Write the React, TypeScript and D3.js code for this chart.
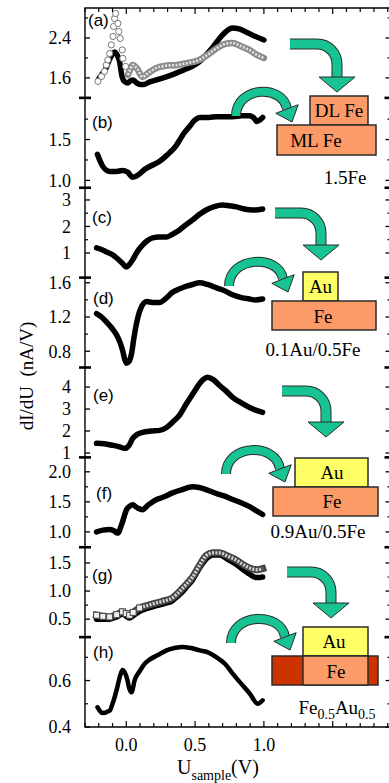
import React, { useRef, useEffect } from 'react';
import * as d3 from 'd3';

// sample bias U (V) and dI/dU (nA/V)
const aFillU = [-0.2, -0.18, -0.15, -0.12, -0.1, -0.085, -0.065, -0.05, -0.03, -0.01, 0.01, 0.03, 0.05, 0.075, 0.1, 0.13, 0.17, 0.22, 0.29, 0.35, 0.41, 0.47, 0.53, 0.58, 0.63, 0.68, 0.73, 0.77, 0.82, 0.87, 0.93, 1.0];
const aFillY = [1.58, 1.66, 1.78, 1.98, 2.08, 2.12, 2.05, 1.94, 1.62, 1.52, 1.5, 1.54, 1.56, 1.5, 1.47, 1.47, 1.52, 1.56, 1.62, 1.68, 1.75, 1.82, 1.92, 2.06, 2.22, 2.4, 2.54, 2.6, 2.58, 2.52, 2.44, 2.36];
const aOpenU = [-0.206, -0.18, -0.158, -0.145, -0.134, -0.121, -0.109, -0.097, -0.092, -0.085, -0.078, -0.061, -0.054, -0.044, -0.029, -0.025, -0.005, 0.012, 0.03, 0.046, 0.08, 0.118, 0.16, 0.22, 0.28, 0.37, 0.45, 0.53, 0.6, 0.66, 0.72, 0.77, 0.83, 0.9, 0.95, 1.0];
const aOpenY = [1.53, 1.63, 1.73, 1.86, 1.96, 2.09, 2.26, 2.43, 2.63, 2.79, 2.89, 2.69, 2.53, 2.39, 2.16, 1.99, 1.83, 1.66, 1.78, 1.86, 1.78, 1.62, 1.7, 1.8, 1.84, 1.86, 1.9, 1.96, 2.08, 2.2, 2.28, 2.3, 2.24, 2.15, 2.06, 2.0];

const bU = [-0.21, -0.17, -0.12, -0.07, -0.03, 0.01, 0.046, 0.07, 0.097, 0.13, 0.17, 0.24, 0.29, 0.315, 0.36, 0.39, 0.42, 0.46, 0.5, 0.533, 0.6, 0.656, 0.72, 0.773, 0.84, 0.896, 0.93, 0.947, 0.97, 0.991];
const bY = [1.32, 1.17, 1.11, 1.11, 1.12, 1.1, 1.04, 1.05, 1.08, 1.13, 1.17, 1.23, 1.3, 1.34, 1.42, 1.5, 1.58, 1.66, 1.74, 1.77, 1.77, 1.78, 1.78, 1.78, 1.79, 1.79, 1.76, 1.72, 1.74, 1.77];

const cU = [-0.216, -0.18, -0.143, -0.1, -0.07, -0.03, 0.002, 0.02, 0.046, 0.08, 0.118, 0.15, 0.191, 0.24, 0.293, 0.34, 0.387, 0.43, 0.482, 0.53, 0.584, 0.64, 0.7, 0.75, 0.802, 0.85, 0.896, 0.94, 0.991];
const cY = [1.19, 1.13, 1.04, 0.93, 0.81, 0.62, 0.47, 0.55, 0.74, 1.05, 1.3, 1.45, 1.57, 1.6, 1.6, 1.72, 1.87, 2.05, 2.25, 2.45, 2.63, 2.75, 2.81, 2.78, 2.74, 2.67, 2.63, 2.62, 2.66];

const dU = [-0.216, -0.18, -0.143, -0.1, -0.07, -0.045, -0.027, -0.01, 0.002, 0.02, 0.039, 0.055, 0.075, 0.1, 0.148, 0.19, 0.242, 0.29, 0.336, 0.39, 0.438, 0.48, 0.533, 0.59, 0.656, 0.71, 0.773, 0.83, 0.896, 0.94, 0.991];
const dY = [1.24, 1.2, 1.14, 1.06, 0.99, 0.9, 0.81, 0.7, 0.66, 0.68, 0.78, 0.95, 1.13, 1.28, 1.38, 1.37, 1.37, 1.42, 1.49, 1.53, 1.56, 1.58, 1.6, 1.58, 1.54, 1.51, 1.46, 1.43, 1.41, 1.4, 1.41];

const eU = [-0.216, -0.16, -0.1, -0.05, -0.012, 0.02, 0.046, 0.08, 0.118, 0.18, 0.242, 0.29, 0.336, 0.39, 0.438, 0.49, 0.533, 0.56, 0.591, 0.63, 0.678, 0.72, 0.773, 0.83, 0.896, 0.94, 0.991];
const eY = [1.44, 1.42, 1.35, 1.28, 1.21, 1.35, 1.66, 1.85, 1.94, 2.0, 2.03, 2.15, 2.4, 2.75, 3.25, 3.75, 4.16, 4.35, 4.45, 4.35, 4.07, 3.85, 3.53, 3.3, 3.07, 2.95, 2.85];

const fU = [-0.216, -0.17, -0.121, -0.09, -0.063, -0.03, 0.002, 0.02, 0.046, 0.08, 0.118, 0.16, 0.22, 0.27, 0.336, 0.4, 0.482, 0.53, 0.584, 0.63, 0.678, 0.72, 0.773, 0.83, 0.896, 0.94, 0.991];
const fY = [1.0, 1.03, 1.04, 1.02, 0.98, 1.15, 1.37, 1.42, 1.45, 1.4, 1.37, 1.45, 1.54, 1.58, 1.65, 1.7, 1.75, 1.74, 1.7, 1.66, 1.62, 1.59, 1.54, 1.49, 1.42, 1.36, 1.29];

const gOpenU = [-0.216, -0.17, -0.121, -0.07, -0.027, 0.0, 0.024, 0.05, 0.097, 0.15, 0.22, 0.28, 0.336, 0.37, 0.409, 0.44, 0.482, 0.53, 0.584, 0.63, 0.678, 0.74, 0.802, 0.85, 0.896, 0.95, 0.991];
const gOpenY = [0.57, 0.55, 0.54, 0.58, 0.63, 0.6, 0.57, 0.62, 0.7, 0.74, 0.79, 0.83, 0.88, 0.95, 1.05, 1.13, 1.25, 1.45, 1.64, 1.68, 1.68, 1.62, 1.55, 1.47, 1.41, 1.38, 1.4];
const gFillU = [-0.216, -0.17, -0.121, -0.07, -0.027, 0.0, 0.024, 0.05, 0.097, 0.15, 0.22, 0.28, 0.336, 0.37, 0.409, 0.44, 0.482, 0.53, 0.584, 0.63, 0.678, 0.74, 0.802, 0.85, 0.896, 0.95, 0.991];
const gFillY = [0.5, 0.5, 0.5, 0.54, 0.59, 0.55, 0.52, 0.56, 0.64, 0.69, 0.74, 0.78, 0.83, 0.9, 0.99, 1.08, 1.2, 1.4, 1.58, 1.64, 1.64, 1.56, 1.47, 1.38, 1.3, 1.24, 1.25];

const hU = [-0.209, -0.172, -0.121, -0.1, -0.07, -0.045, -0.027, 0.009, 0.02, 0.039, 0.06, 0.097, 0.13, 0.169, 0.23, 0.293, 0.35, 0.409, 0.47, 0.533, 0.6, 0.656, 0.72, 0.773, 0.83, 0.896, 0.955, 0.991];
const hY = [0.485, 0.46, 0.47, 0.5, 0.56, 0.62, 0.645, 0.6, 0.57, 0.55, 0.6, 0.64, 0.67, 0.69, 0.71, 0.73, 0.74, 0.745, 0.74, 0.73, 0.72, 0.7, 0.67, 0.63, 0.59, 0.545, 0.5, 0.515];

const xTickLabels = [0.0, 0.5, 1.0];

const panelLabels = ['(a)', '(b)', '(c)', '(d)', '(e)', '(f)', '(g)', '(h)'];
const panelDomains = [[1.2, 3.0], [0.91, 2.01], [0.07, 3.46], [0.61, 1.66], [0.8, 4.89], [0.745, 2.24], [0.18, 1.78], [0.4, 0.787]];
const panelTicks = [[1.6, 2.4], [1.0, 1.5], [1, 2, 3], [0.8, 1.2, 1.6], [1, 2, 3, 4], [1.0, 1.5, 2.0], [0.5, 1.0, 1.5], [0.4, 0.6]];
const panelMinorTicks = [[2.0, 2.8], [1.25, 1.75], [1.5, 2.5], [1.0, 1.4], [], [1.25, 1.75], [0.75, 1.25], [0.5, 0.7]];
const panelTickFormat = ['.1f', '.1f', 'd', '.1f', 'd', '.1f', '.1f', '.1f'];

const insetCaptions = ['1.5Fe', '0.1Au/0.5Fe', '0.9Au/0.5Fe', 'Fe0.5Au0.5'];

const GREEN = '#17c392';
const ORANGE = '#fc9a68';
const YELLOW = '#ffff66';
const DARKRED = '#cc3300';
const SERIF = "'Liberation Serif', 'Times New Roman', serif";
const SANS = "'Liberation Sans', Arial, sans-serif";

function App() {
  const svgRef = useRef(null);

  useEffect(() => {
    const svg = d3.select(svgRef.current);
    svg.selectAll('*').remove();

    const top = 8, bottom = 727;
    const left = 85, right = 390.5;
    const n = panelLabels.length;
    const ph = (bottom - top) / n;

    const x = d3.scaleLinear().domain([-0.3, 1.92]).range([left, right]);

    const series = [
      [{ u: aFillU, v: aFillY, kind: 'fill' }, { u: aOpenU, v: aOpenY, kind: 'circle' }],
      [{ u: bU, v: bY, kind: 'fill' }],
      [{ u: cU, v: cY, kind: 'fill' }],
      [{ u: dU, v: dY, kind: 'fill' }],
      [{ u: eU, v: eY, kind: 'fill' }],
      [{ u: fU, v: fY, kind: 'fill' }],
      [{ u: gFillU, v: gFillY, kind: 'fill' }, { u: gOpenU, v: gOpenY, kind: 'square' }],
      [{ u: hU, v: hY, kind: 'fill' }],
    ];

    const labelPos = [[88, 18], [92, 30], [92, 35], [93, 26], [93, 33], [96, 42], [92, 34], [93, 21]];

    panelLabels.forEach((lab, i) => {
      const pTop = top + i * ph;
      const pBot = pTop + ph;
      const y = d3.scaleLinear().domain(panelDomains[i]).range([pBot, pTop]);
      const g = svg.append('g');

      // left + right ticks
      const fmt = d3.format(panelTickFormat[i]);
      panelTicks[i].forEach(t => {
        const yy = y(t);
        g.append('line').attr('x1', left).attr('x2', left + 5).attr('y1', yy).attr('y2', yy)
          .attr('stroke', '#000').attr('stroke-width', 1.3);
        g.append('line').attr('x1', right - 5).attr('x2', right).attr('y1', yy).attr('y2', yy)
          .attr('stroke', '#000').attr('stroke-width', 1.3);
        g.append('text').attr('x', 71).attr('y', yy).attr('dy', '0.35em')
          .attr('text-anchor', 'end').attr('font-family', SERIF).attr('font-size', 18)
          .text(fmt(t));
      });
      panelMinorTicks[i].forEach(t => {
        const yy = y(t);
        g.append('line').attr('x1', left).attr('x2', left + 3).attr('y1', yy).attr('y2', yy)
          .attr('stroke', '#000').attr('stroke-width', 1.2);
        g.append('line').attr('x1', right - 3).attr('x2', right).attr('y1', yy).attr('y2', yy)
          .attr('stroke', '#000').attr('stroke-width', 1.2);
      });

      // panel letter
      g.append('text').attr('x', labelPos[i][0]).attr('y', pTop + labelPos[i][1])
        .attr('font-family', SANS).attr('font-size', 17).text(lab);

      const line = d3.line().x(d => x(d[0])).y(d => y(d[1])).curve(d3.curveMonotoneX);

      series[i].forEach(s => {
        const pts = s.u.map((u, k) => [u, s.v[k]]);
        if (s.kind === 'fill') {
          g.append('path').datum(pts).attr('d', line).attr('fill', 'none')
            .attr('stroke', '#000').attr('stroke-width', i === 7 ? 4.5 : 5.5)
            .attr('stroke-linecap', 'round').attr('stroke-linejoin', 'round');
        } else if (s.kind === 'circle') {
          const dense = pts.filter(p => p[0] >= 0.0);
          g.append('path').datum(dense).attr('d', line).attr('fill', 'none')
            .attr('stroke', '#8a8a8a').attr('stroke-width', 6.5).attr('stroke-linecap', 'round');
          g.append('path').datum(dense).attr('d', line).attr('fill', 'none')
            .attr('stroke', '#e4e4e4').attr('stroke-width', 2.6).attr('stroke-dasharray', '2 1.5');
          g.selectAll(null).data(pts.filter(p => p[0] < 0.0)).enter().append('circle')
            .attr('cx', d => x(d[0])).attr('cy', d => y(d[1])).attr('r', 3.1)
            .attr('fill', '#fff').attr('stroke', '#777').attr('stroke-width', 1);
        } else {
          g.append('path').datum(pts).attr('d', line).attr('fill', 'none')
            .attr('stroke', '#444').attr('stroke-width', 7).attr('stroke-linecap', 'square');
          g.append('path').datum(pts).attr('d', line).attr('fill', 'none')
            .attr('stroke', '#d4d4d4').attr('stroke-width', 3.4).attr('stroke-dasharray', '2 1.4');
          g.selectAll(null).data(pts.filter(p => p[0] < 0.1)).enter().append('rect')
            .attr('x', d => x(d[0]) - 3).attr('y', d => y(d[1]) - 3).attr('width', 6).attr('height', 6)
            .attr('fill', '#eee').attr('stroke', '#444').attr('stroke-width', 1);
        }
      });

      // axis break marks between panels
      if (i > 0) {
        g.append('line').attr('x1', left - 6).attr('x2', left + 6).attr('y1', pTop).attr('y2', pTop)
          .attr('stroke', '#000').attr('stroke-width', 2.6);
        g.append('line').attr('x1', right - 6).attr('x2', right).attr('y1', pTop).attr('y2', pTop)
          .attr('stroke', '#000').attr('stroke-width', 2.6);
      }
    });

    // frame
    svg.append('path')
      .attr('d', `M${left},${top}H${right}V${bottom}H${left}Z`)
      .attr('fill', 'none').attr('stroke', '#000').attr('stroke-width', 1.4);

    // x ticks top and bottom
    const xt = d3.range(-3, 20).map(k => k / 10);
    xt.forEach(t => {
      const xx = x(t);
      const major = Math.abs(t * 2 - Math.round(t * 2)) < 1e-6;
      const len = major ? 6 : 4;
      svg.append('line').attr('x1', xx).attr('x2', xx).attr('y1', bottom).attr('y2', bottom - len)
        .attr('stroke', '#000').attr('stroke-width', 1.2);
      svg.append('line').attr('x1', xx).attr('x2', xx).attr('y1', top).attr('y2', top + len)
        .attr('stroke', '#000').attr('stroke-width', 1.2);
    });
    xTickLabels.forEach(t => {
      svg.append('text').attr('x', x(t)).attr('y', 751).attr('text-anchor', 'middle')
        .attr('font-family', SERIF).attr('font-size', 18).text(d3.format('.1f')(t));
    });

    // axis titles
    const xl = svg.append('text').attr('x', 177).attr('y', 774)
      .attr('font-family', SERIF).attr('font-size', 20);
    xl.append('tspan').text('U');
    xl.append('tspan').attr('dy', 6).attr('font-size', 14).text('sample');
    xl.append('tspan').attr('dy', -6).text('(V)');

    svg.append('text').attr('transform', 'translate(33,376) rotate(-90)')
      .attr('text-anchor', 'middle').attr('font-family', SERIF).attr('font-size', 19)
      .attr('xml:space', 'preserve').text('dI/dU  (nA/V)');

    // insets: structure sketches with arrows
    const ink = '#2b2b2b';
    const bentArrow = (x0, y0, tx, ty) => {
      const r = 20, hl = 15, hw = 18, t = 9;
      const d = `M${x0},${y0}H${tx - r}A${r},${r} 0 0 1 ${tx},${y0 + r}V${ty - hl + 1}`;
      svg.append('path').attr('d', d).attr('fill', 'none').attr('stroke', ink).attr('stroke-width', t + 2);
      svg.append('path').attr('d', d).attr('fill', 'none').attr('stroke', GREEN).attr('stroke-width', t);
      svg.append('path').attr('d', `M${tx - hw},${ty - hl}L${tx + hw},${ty - hl}L${tx},${ty}Z`)
        .attr('fill', GREEN).attr('stroke', ink).attr('stroke-width', 1);
    };
    const hookArrow = (xs, ys, tx, ty) => {
      const t = 8, hw = 12;
      const bx = tx - 5, by = ty - 13;
      const d = `M${xs},${ys}C${xs},${ys - 30} ${tx - 9},${ys - 32} ${bx},${by}`;
      svg.append('path').attr('d', d).attr('fill', 'none').attr('stroke', ink).attr('stroke-width', t + 2);
      svg.append('path').attr('d', d).attr('fill', 'none').attr('stroke', GREEN).attr('stroke-width', t);
      const len = Math.hypot(tx - bx, ty - by);
      const nx = -(ty - by) / len, ny = (tx - bx) / len;
      svg.append('path')
        .attr('d', `M${bx + nx * hw},${by + ny * hw}L${bx - nx * hw},${by - ny * hw}L${tx},${ty}Z`)
        .attr('fill', GREEN).attr('stroke', ink).attr('stroke-width', 1);
    };
    const box = (bx, by, w, h, fill) => {
      svg.append('rect').attr('x', bx).attr('y', by).attr('width', w).attr('height', h)
        .attr('fill', fill).attr('stroke', ink).attr('stroke-width', 1.5);
    };
    const label = (tx, ty, s, size = 19) => {
      svg.append('text').attr('x', tx).attr('y', ty).attr('text-anchor', 'middle')
        .attr('font-family', SERIF).attr('font-size', size).text(s);
    };

    // (a)/(b)
    bentArrow(290, 44, 337, 92);
    hookArrow(236, 116, 292, 122);
    box(310, 96, 58, 29, ORANGE);
    box(277, 125, 99, 30, ORANGE);
    label(339, 117, 'DL Fe');
    label(316, 147, 'ML Fe');
    label(345, 184, insetCaptions[0]);

    // (c)/(d)
    bentArrow(275, 213, 321, 260);
    hookArrow(229, 286, 288, 292);
    box(303, 272, 35, 29, YELLOW);
    box(272, 301, 104, 29, ORANGE);
    label(320.5, 293, 'Au');
    label(323, 323, 'Fe');
    label(313, 356, insetCaptions[1]);

    // (e)/(f)
    bentArrow(282, 391, 326, 437);
    hookArrow(226, 474, 285, 482);
    box(295, 458, 73, 29, YELLOW);
    box(273, 487, 105, 29, ORANGE);
    label(332, 479, 'Au');
    label(332, 508, 'Fe');
    label(318, 538, insetCaptions[2]);

    // (g)/(h)
    bentArrow(287, 572, 331, 618);
    hookArrow(231, 643, 290, 650);
    box(303, 627, 65, 29, YELLOW);
    box(272, 656, 106, 29, DARKRED);
    box(303, 656, 65, 29, ORANGE);
    label(334, 648, 'Au');
    label(336, 678, 'Fe');
    const cap = svg.append('text').attr('x', 337).attr('y', 714).attr('text-anchor', 'middle')
      .attr('font-family', SERIF).attr('font-size', 19);
    cap.append('tspan').text('Fe');
    cap.append('tspan').attr('dy', 5).attr('font-size', 14).text('0.5');
    cap.append('tspan').attr('dy', -5).text('Au');
    cap.append('tspan').attr('dy', 5).attr('font-size', 14).text('0.5');
  }, []);

  return (
    <svg ref={svgRef} width={389} height={783}
      style={{ position: 'absolute', left: 0, top: 0, background: '#fff' }} />
  );
}

export default App;
